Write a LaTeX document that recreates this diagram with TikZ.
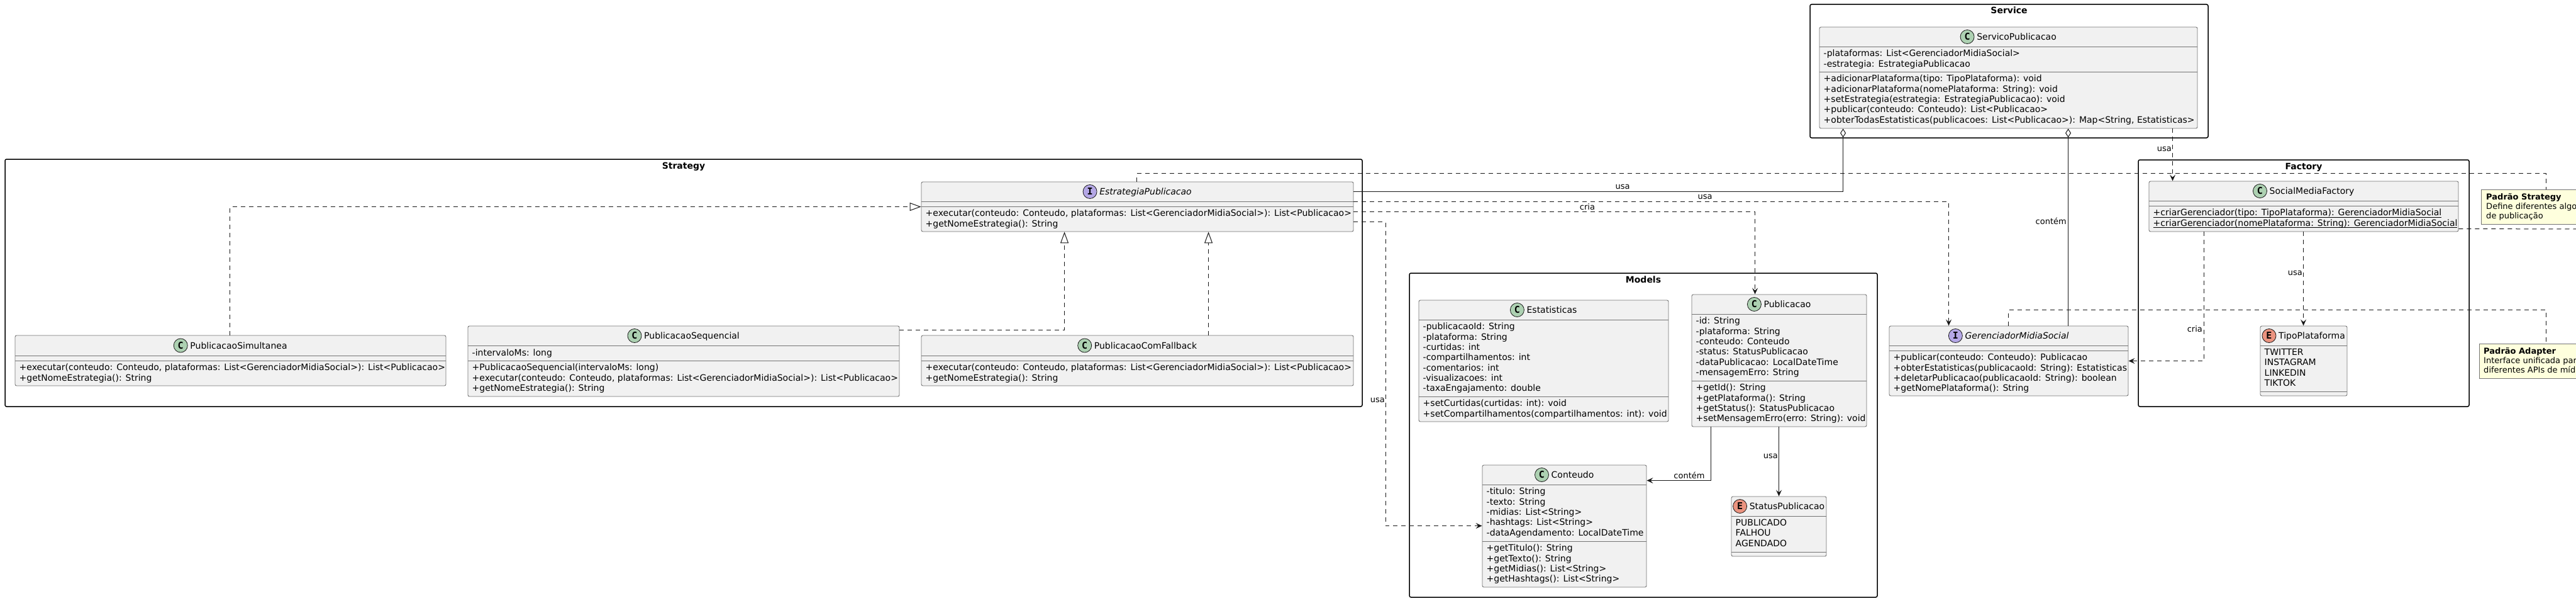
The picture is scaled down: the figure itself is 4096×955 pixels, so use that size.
\documentclass[tikz,border=0pt]{standalone}
\usepackage{fontspec}
\setmainfont{DejaVu Sans}
\newfontfamily\iconfont{DejaVu Sans Mono}
\usetikzlibrary{fit,calc,arrows.meta}

\definecolor{clsfill}{HTML}{F1F1F1}
\definecolor{ink}{HTML}{181818}
\definecolor{cC}{HTML}{ADD1B2}
\definecolor{cI}{HTML}{B4A7E5}
\definecolor{cE}{HTML}{EB937F}
\definecolor{notefill}{HTML}{FEFFDD}

\tikzset{
 clsbox/.style={draw=ink!60, fill=clsfill, line width=0.9pt, inner sep=0pt, rounded corners=2.5pt},
 sepline/.style={draw=ink!60, line width=0.9pt},
 pkgbox/.style={draw=black, line width=1.5pt, rounded corners=2.5pt, inner sep=0pt},
 pkgtitle/.style={font=\fontsize{14}{16}\selectfont\bfseries, inner sep=0pt, anchor=base},
 hdtxt/.style={font=\fontsize{14}{16.3}\selectfont, inner sep=0pt, anchor=base},
 rowtxt/.style={font=\fontsize{14}{16.3}\selectfont, inner sep=0pt, align=left, anchor=north west, execute at begin node=\strut},
 icon/.style={circle, draw=ink, line width=0.8pt, minimum size=22pt, inner sep=0pt, font=\fontsize{15}{15}\iconfont\bfseries},
 notebox/.style={draw=ink!60, fill=notefill, line width=0.9pt, inner sep=0pt},
 notetxt/.style={font=\fontsize{13}{15.1}\selectfont, inner sep=0pt, align=left, anchor=north west, execute at begin node=\strut},
 lbl/.style={font=\fontsize{13}{15}\selectfont, inner sep=0pt},
 dep/.style={draw=ink, line width=1pt, dash pattern=on 7pt off 6pt},
 assoc/.style={draw=ink, line width=1pt},
 arr/.style={-{Stealth[length=10pt,width=9pt,inset=4pt]}},
 realz/.style={-{Triangle[open,length=18pt,width=13pt,fill=white]}},
 aggr/.style={{Diamond[open,length=14pt,width=9pt,fill=white]}-},
}

\newcommand\umlbox[5]{\node[clsbox, fit={(#2,#3) (#4,#5)}] (#1) {};}
\newcommand\umlsep[3]{\draw[sepline] (#1,#3) -- (#2,#3);}
\newcommand\umlhead[8]{%
  \pgfmathsetmacro\hcx{(#2+#3)/2+13}%
  \pgfmathsetmacro\hcy{(#4+#5)/2+5}%
  \node[hdtxt] (#1h) at (\hcx,\hcy) {#8};
  \node[icon, fill=#7] (#1i) at ($(#1h.base west)+(-15,-5)$) {#6};
}
\newcommand\umlrows[4]{\node[rowtxt] (#1) at (#2+6.5,#3+5.1) {#4};}
\newsavebox\ulbox
\newcommand\myul[1]{\sbox\ulbox{#1}\rlap{\vrule height -1.6pt depth 2.6pt width \wd\ulbox}\usebox\ulbox}

\begin{document}
\begin{tikzpicture}[x=1pt,y=-1pt]
\useasboundingbox (0,0) rectangle (4096,955);
\fill[white] (0,0) rectangle (4096,955);
\clip (0,0) rectangle (4096,955);

% ---------- packages ----------
\node[pkgbox, fit={(2878,7) (3511,219)}] (pkgsvc) {};
\node[pkgtitle] (pkgsvct) at (3194.5,22) {Service};
\node[pkgbox, fit={(8,253) (2166,646)}] (pkgstr) {};
\node[pkgtitle] (pkgstrt) at (1087,268) {Strategy};
\node[pkgbox, fit={(2241,434) (2985,949)}] (pkgmod) {};
\node[pkgtitle] (pkgmodt) at (2613,449) {Models};
\node[pkgbox, fit={(3400,254) (3926,646)}] (pkgfac) {};
\node[pkgtitle] (pkgfact) at (3663,269) {Factory};

% ---------- ServicoPublicacao ----------
\umlbox{svc}{2893}{43}{3494}{204}
\umlsep{2893}{3494}{74}\umlsep{2893}{3494}{114}
\umlhead{svc}{2893}{3494}{43}{74}{C}{cC}{ServicoPublicacao}
\umlrows{svca}{2893}{74}{-plataformas: List<GerenciadorMidiaSocial>\\-estrategia: EstrategiaPublicacao}
\umlrows{svcm}{2893}{114}{+adicionarPlataforma(tipo: TipoPlataforma): void\\+adicionarPlataforma(nomePlataforma: String): void\\+setEstrategia(estrategia: EstrategiaPublicacao): void\\+publicar(conteudo: Conteudo): List<Publicacao>\\+obterTodasEstatisticas(publicacoes: List<Publicacao>): Map<String, Estatisticas>}

% ---------- EstrategiaPublicacao ----------
\umlbox{estr}{1465}{289}{2152}{368}
\umlsep{1465}{2152}{320}\umlsep{1465}{2152}{328}
\umlhead{estr}{1465}{2152}{289}{320}{I}{cI}{\textit{EstrategiaPublicacao}}
\umlrows{estrm}{1465}{328}{+executar(conteudo: Conteudo, plataformas: List<GerenciadorMidiaSocial>): List<Publicacao>\\+getNomeEstrategia(): String}

% ---------- PublicacaoSimultanea ----------
\umlbox{simul}{24}{533}{709}{613}
\umlsep{24}{709}{565}\umlsep{24}{709}{573}
\umlhead{simul}{24}{709}{533}{565}{C}{cC}{PublicacaoSimultanea}
\umlrows{simulm}{24}{573}{+executar(conteudo: Conteudo, plataformas: List<GerenciadorMidiaSocial>): List<Publicacao>\\+getNomeEstrategia(): String}

% ---------- PublicacaoSequencial ----------
\umlbox{seq}{744}{518}{1430}{630}
\umlsep{744}{1430}{549}\umlsep{744}{1430}{573}
\umlhead{seq}{744}{1430}{518}{549}{C}{cC}{PublicacaoSequencial}
\umlrows{seqa}{744}{549}{-intervaloMs: long}
\umlrows{seqm}{744}{573}{+PublicacaoSequencial(intervaloMs: long)\\+executar(conteudo: Conteudo, plataformas: List<GerenciadorMidiaSocial>): List<Publicacao>\\+getNomeEstrategia(): String}

% ---------- PublicacaoComFallback ----------
\umlbox{fb}{1465}{533}{2152}{613}
\umlsep{1465}{2152}{565}\umlsep{1465}{2152}{573}
\umlhead{fb}{1465}{2152}{533}{565}{C}{cC}{PublicacaoComFallback}
\umlrows{fbm}{1465}{573}{+executar(conteudo: Conteudo, plataformas: List<GerenciadorMidiaSocial>): List<Publicacao>\\+getNomeEstrategia(): String}

% ---------- Estatisticas ----------
\umlbox{est}{2256}{477}{2653}{670}
\umlsep{2256}{2653}{508}\umlsep{2256}{2653}{630}
\umlhead{est}{2256}{2653}{477}{508}{C}{cC}{Estatisticas}
\umlrows{esta}{2256}{508}{-publicacaoId: String\\-plataforma: String\\-curtidas: int\\-compartilhamentos: int\\-comentarios: int\\-visualizacoes: int\\-taxaEngajamento: double}
\umlrows{estm}{2256}{630}{+setCurtidas(curtidas: int): void\\+setCompartilhamentos(compartilhamentos: int): void}

% ---------- Publicacao ----------
\umlbox{pub}{2690}{468}{2968}{678}
\umlsep{2690}{2968}{499}\umlsep{2690}{2968}{605}
\umlhead{pub}{2690}{2968}{468}{499}{C}{cC}{Publicacao}
\umlrows{puba}{2690}{499}{-id: String\\-plataforma: String\\-conteudo: Conteudo\\-status: StatusPublicacao\\-dataPublicacao: LocalDateTime\\-mensagemErro: String}
\umlrows{pubm}{2690}{605}{+getId(): String\\+getPlataforma(): String\\+getStatus(): StatusPublicacao\\+setMensagemErro(erro: String): void}

% ---------- Conteudo ----------
\umlbox{cont}{2357}{739}{2618}{933}
\umlsep{2357}{2618}{770}\umlsep{2357}{2618}{860}
\umlhead{cont}{2357}{2618}{739}{770}{C}{cC}{Conteudo}
\umlrows{conta}{2357}{770}{-titulo: String\\-texto: String\\-midias: List<String>\\-hashtags: List<String>\\-dataAgendamento: LocalDateTime}
\umlrows{contm}{2357}{860}{+getTitulo(): String\\+getTexto(): String\\+getMidias(): List<String>\\+getHashtags(): List<String>}

% ---------- StatusPublicacao ----------
\umlbox{stat}{2753}{789}{2904}{884}
\umlsep{2753}{2904}{820}\umlsep{2753}{2904}{877}
\umlhead{stat}{2753}{2904}{789}{820}{E}{cE}{StatusPublicacao}
\umlrows{stata}{2753}{820}{PUBLICADO\\FALHOU\\AGENDADO}

% ---------- GerenciadorMidiaSocial ----------
\umlbox{ger}{3004}{518}{3384}{629}
\umlsep{3004}{3384}{549}\umlsep{3004}{3384}{557}
\umlhead{ger}{3004}{3384}{518}{549}{I}{cI}{\textit{GerenciadorMidiaSocial}}
\umlrows{germ}{3004}{557}{+publicar(conteudo: Conteudo): Publicacao\\+obterEstatisticas(publicacaoId: String): Estatisticas\\+deletarPublicacao(publicacaoId: String): boolean\\+getNomePlataforma(): String}

% ---------- SocialMediaFactory ----------
\umlbox{smf}{3417}{288}{3909}{368}
\umlsep{3417}{3909}{319}\umlsep{3417}{3909}{327}
\umlhead{smf}{3417}{3909}{288}{319}{C}{cC}{SocialMediaFactory}
\umlrows{smfm}{3417}{327}{\myul{+criarGerenciador(tipo: TipoPlataforma): GerenciadorMidiaSocial}\\\myul{+criarGerenciador(nomePlataforma: String): GerenciadorMidiaSocial}}

% ---------- TipoPlataforma ----------
\umlbox{tipo}{3594}{518}{3732}{629}
\umlsep{3594}{3732}{549}\umlsep{3594}{3732}{622}
\umlhead{tipo}{3594}{3732}{518}{549}{E}{cE}{TipoPlataforma}
\umlrows{tipoa}{3594}{549}{TWITTER\\INSTAGRAM\\LINKEDIN\\TIKTOK}

% ---------- notes ----------
\node[notebox, fit={(3945,301) (4200,356)}] (nstr) {};
\node[notetxt] (nstrt) at (3953,306.9) {\textbf{Padrão Strategy}\\Define diferentes algo\\de publicação};
\node[notebox, fit={(3942,546) (4200,601)}] (nadp) {};
\node[notetxt] (nadpt) at (3949,551.9) {\textbf{Padrão Adapter}\\Interface unificada par\\diferentes APIs de mídi};

% ---------- connectors ----------
\draw[dep, realz] ($(simul.north west)+(342,0)$) |- ($(estr.north west)+(0,40)$);
\draw[dep, realz] ($(seq.north east)+(0,7)$) -| ($(estr.south west)+(228,0)$);
\draw[dep, realz] ($(fb.north west)+(457,0)$) -- ($(estr.south west)+(457,0)$);

\draw[assoc, aggr] ($(svc.south west)+(38,0)$) |- ($(estr.north east)+(0,16)$);
\draw[assoc, aggr] ($(svc.south west)+(396,0)$) -- ($(ger.north west)+(285,0)$);
\draw[dep, arr] ($(svc.south west)+(562,0)$) -- ($(smf.north west)+(38,0)$);

\draw[dep, arr] ($(estr.north east)+(0,32)$) -| ($(ger.north west)+(95,0)$);
\draw[dep, arr] ($(estr.north east)+(0,48)$) -| ($(pub.north west)+(101,0)$);
\draw[dep, arr] ($(estr.north east)+(0,64)$) -- ++(51,0) |- ($(cont.north west)+(0,97)$);

\draw[dep] ($(estr.north west)+(343,0)$) -- ++(0,-13) -| ($(nstr.north west)+(104,0)$);
\draw[dep] ($(ger.north west)+(190,0)$) -- ++(0,-25) -| ($(nadp.north west)+(107,0)$);
\coordinate (offnote) at (4120,364);
\draw[dep] ($(smf.north east)+(0,76)$) -- (offnote);

\draw[dep, arr] ($(smf.south west)+(88,0)$) |- ($(ger.north east)+(0,56)$);
\draw[dep, arr] ($(smf.south west)+(246,0)$) -- ($(tipo.north west)+(69,0)$);

\draw[assoc, arr] ($(pub.south west)+(31,0)$) |- ($(cont.north east)+(0,25)$);
\draw[assoc, arr] ($(pub.south west)+(139,0)$) -- ($(stat.north west)+(76,0)$);

% ---------- labels ----------
\node[lbl, anchor=base] (l1) at (2580,300.5) {usa};
\node[lbl, anchor=base] (l2) at (2711,316.5) {usa};
\node[lbl, anchor=base] (l3) at (2524,333) {cria};
\node[lbl, anchor=base east] (l4) at (2202,639.5) {usa};
\node[lbl, anchor=base east] (l5) at (3286,356) {contém};
\node[lbl, anchor=base east] (l6) at (3453,240.5) {usa};
\node[lbl, anchor=base east] (l7) at (3502,527) {cria};
\node[lbl, anchor=base east] (l8) at (3661,437.5) {usa};
\node[lbl, anchor=base] (l9) at (2686,760) {contém};
\node[lbl, anchor=base east] (l10) at (2827,728.5) {usa};
\end{tikzpicture}
\end{document}
